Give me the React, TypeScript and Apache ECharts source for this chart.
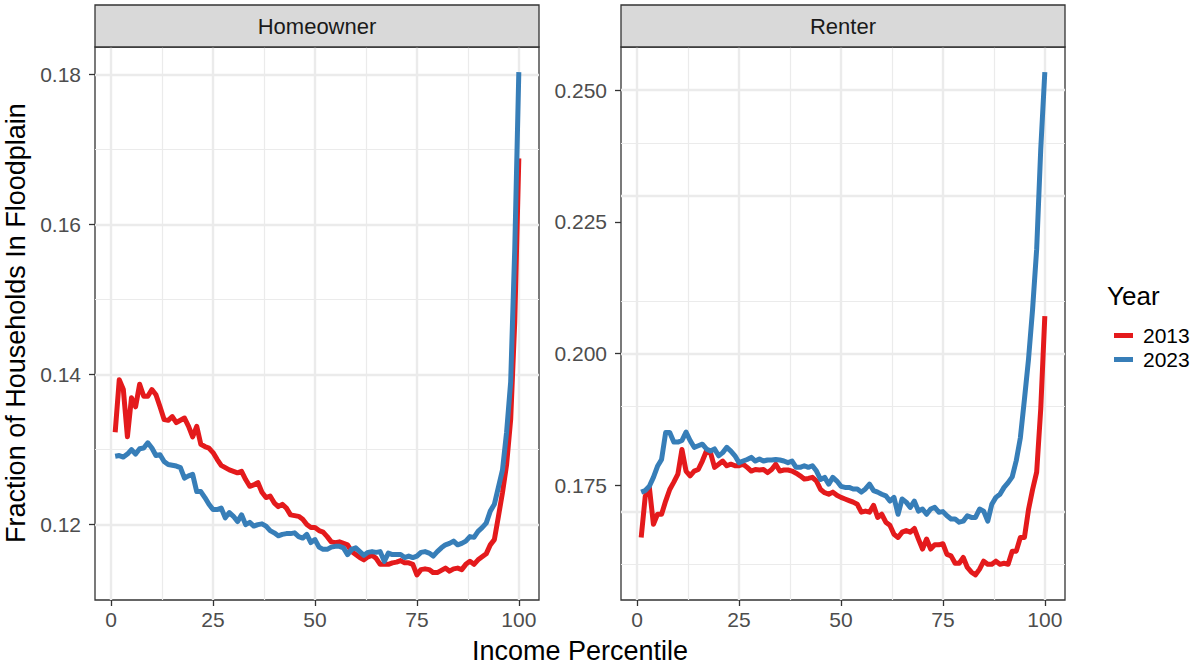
import React, { useEffect, useRef } from "react";
import * as echarts from "echarts";

// Income percentiles (x categories)
const percentiles: number[] = [
  1, 2, 3, 4, 5, 6, 7, 8, 9, 10, 11, 12, 13, 14, 15, 16, 17, 18, 19, 20,
  21, 22, 23, 24, 25, 26, 27, 28, 29, 30, 31, 32, 33, 34, 35, 36, 37, 38, 39, 40,
  41, 42, 43, 44, 45, 46, 47, 48, 49, 50, 51, 52, 53, 54, 55, 56, 57, 58, 59, 60,
  61, 62, 63, 64, 65, 66, 67, 68, 69, 70, 71, 72, 73, 74, 75, 76, 77, 78, 79, 80,
  81, 82, 83, 84, 85, 86, 87, 88, 89, 90, 91, 92, 93, 94, 95, 96, 97, 98, 99, 100,
];

const years = ["2013", "2023"];
const panels = ["Homeowner", "Renter"];

// Homeowner
const homeowner2013: number[] = [
  0.1323, 0.1393, 0.138, 0.1317, 0.1369, 0.1357, 0.1387, 0.1371, 0.1371, 0.138,
  0.1373, 0.1357, 0.134, 0.1339, 0.1344, 0.1336, 0.1339, 0.1342, 0.1331, 0.1317,
  0.1331, 0.1307, 0.1304, 0.1302, 0.1296, 0.1287, 0.1279, 0.1276, 0.1273, 0.1271,
  0.1269, 0.1271, 0.126, 0.1251, 0.1253, 0.1256, 0.1243, 0.1236, 0.1238, 0.1229,
  0.1224, 0.1227, 0.1222, 0.1213, 0.1212, 0.1211, 0.1207, 0.12, 0.1196, 0.1196,
  0.1192, 0.119, 0.1184, 0.1177, 0.1176, 0.1177, 0.1175, 0.1173, 0.1164, 0.116,
  0.1156, 0.1153, 0.1157, 0.1159, 0.1155, 0.1147, 0.1147, 0.1147, 0.1149, 0.115,
  0.1152, 0.1149, 0.1149, 0.1147, 0.1133, 0.114, 0.1141, 0.114, 0.1136, 0.1136,
  0.1139, 0.1142, 0.1138, 0.1141, 0.1142, 0.114, 0.1147, 0.1151, 0.1147, 0.1153,
  0.1157, 0.1161, 0.1173, 0.118, 0.1211, 0.1243, 0.128, 0.134, 0.147, 0.1688,
];
const homeowner2023: number[] = [
  0.1291, 0.1292, 0.129, 0.1294, 0.13, 0.1294, 0.1301, 0.1302, 0.1309, 0.1302,
  0.1292, 0.1293, 0.1284, 0.128, 0.1279, 0.1278, 0.1276, 0.1262, 0.1265, 0.1267,
  0.1244, 0.1244, 0.1236, 0.1227, 0.122, 0.122, 0.1222, 0.1209, 0.1216, 0.1211,
  0.1204, 0.1213, 0.12, 0.1203, 0.1198, 0.12, 0.1201, 0.1198, 0.1192, 0.1189,
  0.1185, 0.1187, 0.1188, 0.1188, 0.1189, 0.1184, 0.1182, 0.1187, 0.1176, 0.118,
  0.117, 0.1167, 0.1167, 0.117, 0.1171, 0.1171, 0.1169, 0.116, 0.1167, 0.1169,
  0.1164, 0.1159, 0.1163, 0.1164, 0.1163, 0.1164, 0.1151, 0.1162, 0.116, 0.116,
  0.116, 0.1156, 0.1158, 0.1156, 0.1158, 0.1163, 0.1164, 0.1162, 0.1158, 0.1164,
  0.1169, 0.1173, 0.1175, 0.1178, 0.1173, 0.1175, 0.1178, 0.1184, 0.1183, 0.1191,
  0.1196, 0.1202, 0.1218, 0.1227, 0.125, 0.1273, 0.1323, 0.139, 0.1567, 0.1803,
];

// Renter
const renter2013: number[] = [
  0.1651, 0.1729, 0.1746, 0.1676, 0.1695, 0.1695, 0.172, 0.1742, 0.1756, 0.1771,
  0.1818, 0.1777, 0.1768, 0.1777, 0.178, 0.1796, 0.1815, 0.1812, 0.1784, 0.179,
  0.1796, 0.1787, 0.179, 0.1787, 0.1787, 0.179, 0.1784, 0.1777, 0.178, 0.1779,
  0.178, 0.1774, 0.178, 0.179, 0.1777, 0.1779, 0.1779, 0.1777, 0.1773, 0.1768,
  0.1762, 0.1763, 0.1765, 0.1758, 0.1742, 0.1736, 0.1733, 0.1737, 0.1731, 0.1727,
  0.1724, 0.1721, 0.1718, 0.1714, 0.1699, 0.1701, 0.1699, 0.1712, 0.1689, 0.1695,
  0.168, 0.1674, 0.1657, 0.1651, 0.1661, 0.1664, 0.1661, 0.1668, 0.1648, 0.1629,
  0.1648, 0.1629, 0.1637, 0.1637, 0.1639, 0.1619, 0.1616, 0.1602, 0.1602, 0.1613,
  0.1594, 0.1585, 0.158, 0.1591, 0.1606, 0.16, 0.16, 0.1606, 0.16, 0.1602,
  0.16, 0.1625, 0.1625, 0.1651, 0.1651, 0.1704, 0.1742, 0.1775, 0.1895, 0.2071,
];
const renter2023: number[] = [
  0.1737, 0.174, 0.1748, 0.1765, 0.1786, 0.1799, 0.185, 0.185, 0.1832, 0.1832,
  0.1835, 0.1851, 0.1835, 0.1822, 0.1825, 0.1828, 0.1819, 0.1815, 0.1819, 0.1806,
  0.1812, 0.1822, 0.1815, 0.1806, 0.1793, 0.1796, 0.1799, 0.1803, 0.1796, 0.18,
  0.1796, 0.1798, 0.1798, 0.1799, 0.1798, 0.1796, 0.1793, 0.1796, 0.1784, 0.1784,
  0.1787, 0.1784, 0.1787, 0.1777, 0.1761, 0.1765, 0.1752, 0.1765, 0.1758, 0.1748,
  0.1746, 0.1746, 0.1743, 0.1743, 0.1737, 0.1743, 0.1752, 0.174, 0.1737, 0.1733,
  0.173, 0.172, 0.1727, 0.1695, 0.1724, 0.1718, 0.1708, 0.172, 0.1701, 0.1705,
  0.1695, 0.1705, 0.1708, 0.1699, 0.17, 0.1692, 0.1686, 0.1686, 0.168, 0.1682,
  0.1692, 0.1689, 0.1689, 0.1705, 0.1701, 0.1682, 0.1714, 0.1727, 0.1733, 0.1746,
  0.1755, 0.1766, 0.1797, 0.184, 0.1913, 0.1989, 0.2084, 0.2198, 0.2388, 0.2534,
];

// Tick labels / breaks
const xTicks = [0, 25, 50, 75, 100];
const xMinor = [12.5, 37.5, 62.5, 87.5];
const homeTicks = [0.12, 0.14, 0.16, 0.18];
const homeMinor = [0.13, 0.15, 0.17];
const renterTicks = [0.175, 0.2, 0.225, 0.25];
const renterMinor = [0.1625, 0.1875, 0.2125, 0.2375];

const colors = ["#E41A1C", "#377EB8"];
const FONT = "'Liberation Sans', Arial, Helvetica, sans-serif";

const expand = (vals: number[]) => {
  const lo = Math.min(...vals);
  const hi = Math.max(...vals);
  const pad = (hi - lo) * 0.05;
  return [lo - pad, hi + pad];
};

const GRIDS = [
  { left: 95, top: 47, width: 444, height: 553 },
  { left: 621, top: 47, width: 444, height: 553 },
];

export default function App() {
  const ref = useRef<HTMLDivElement>(null);

  useEffect(() => {
    if (!ref.current) return;
    const chart = echarts.init(ref.current, undefined, { renderer: "svg" });

    const xExt = expand(percentiles);
    const homeExt = expand([...homeowner2013, ...homeowner2023]);
    const renterExt = expand([...renter2013, ...renter2023]);
    const yExts = [homeExt, renterExt];
    const yTicks = [homeTicks, renterTicks];
    const yMinor = [homeMinor, renterMinor];
    const yDigits = [2, 3];
    const panelData = [
      [homeowner2013, homeowner2023],
      [renter2013, renter2023],
    ];

    const major = { color: "#EBEBEB", width: 2.4, type: "solid" };
    const minor = { color: "#EBEBEB", width: 1.2, type: "solid" };

    const gridLines = (p: number) => [
      ...xMinor.map((v) => ({ xAxis: v, lineStyle: minor })),
      ...yMinor[p].map((v) => ({ yAxis: v, lineStyle: minor })),
      ...xTicks.map((v) => ({ xAxis: v, lineStyle: major })),
      ...yTicks[p].map((v) => ({ yAxis: v, lineStyle: major })),
    ];

    const labelStyle = { color: "#4D4D4D", fontSize: 21, fontFamily: FONT };
    const tickStyle = { color: "#333333", width: 1.3 };

    const series: any[] = [];
    panels.forEach((_, p) => {
      years.forEach((yr, s) => {
        series.push({
          type: "line",
          name: yr,
          xAxisIndex: p,
          yAxisIndex: p,
          data: percentiles.map((x, i) => [x, panelData[p][s][i]]),
          showSymbol: false,
          symbol: "none",
          color: colors[s],
          lineStyle: { color: colors[s], width: 5, cap: "butt", join: "round" },
          z: 3 + s,
          silent: true,
          markLine:
            s === 0
              ? {
                  silent: true,
                  symbol: "none",
                  label: { show: false },
                  z: 1,
                  animation: false,
                  data: gridLines(p),
                }
              : undefined,
        });
      });
    });

    const option: any = {
      animation: false,
      backgroundColor: "#ffffff",
      grid: GRIDS.map((g) => ({
        ...g,
        show: true,
        borderColor: "#333333",
        borderWidth: 1.3,
        backgroundColor: "#ffffff",
        containLabel: false,
      })),
      xAxis: panels.map((_, p) => ({
        type: "value",
        gridIndex: p,
        min: xExt[0],
        max: xExt[1],
        axisLine: { show: false, onZero: false },
        splitLine: { show: false },
        axisTick: { show: true, length: 6, lineStyle: tickStyle, customValues: xTicks },
        axisLabel: {
          ...labelStyle,
          margin: 9,
          customValues: xTicks,
          formatter: (v: number) => (xTicks.includes(v) ? String(v) : ""),
        },
      })),
      yAxis: panels.map((_, p) => ({
        type: "value",
        gridIndex: p,
        min: yExts[p][0],
        max: yExts[p][1],
        axisLine: { show: false, onZero: false },
        splitLine: { show: false },
        axisTick: { show: true, length: 6, lineStyle: tickStyle, customValues: yTicks[p] },
        axisLabel: {
          ...labelStyle,
          margin: 14,
          customValues: yTicks[p],
          formatter: (v: number) =>
            yTicks[p].some((t) => Math.abs(t - v) < 1e-9) ? v.toFixed(yDigits[p]) : "",
        },
      })),
      legend: {
        data: years,
        orient: "vertical",
        left: 1109,
        top: 320,
        itemWidth: 19,
        itemHeight: 5,
        itemGap: 3,
        icon: "rect",
        selectedMode: false,
        textStyle: {
          fontSize: 21,
          fontFamily: FONT,
          color: "#000000",
          lineHeight: 21,
          padding: [0, 0, 0, 5],
        },
      },
      graphic: [
        ...GRIDS.map((g) => ({
          type: "rect",
          shape: { x: g.left, y: 5, width: g.width, height: 42 },
          style: { fill: "#D9D9D9", stroke: "#333333", lineWidth: 1.3 },
          z: 10,
        })),
        ...GRIDS.map((g, p) => ({
          type: "text",
          x: g.left + g.width / 2,
          y: 26,
          style: {
            text: panels[p],
            fontSize: 22,
            fontFamily: FONT,
            fill: "#1A1A1A",
            align: "center",
            verticalAlign: "middle",
          },
          z: 11,
        })),
        {
          type: "text",
          x: 16,
          y: 323,
          rotation: Math.PI / 2,
          style: {
            text: "Fraction of Households In Floodplain",
            fontSize: 27,
            fontFamily: FONT,
            fill: "#000000",
            align: "center",
            verticalAlign: "middle",
          },
        },
        {
          type: "text",
          x: 580,
          y: 651,
          style: {
            text: "Income Percentile",
            fontSize: 27,
            fontFamily: FONT,
            fill: "#000000",
            align: "center",
            verticalAlign: "middle",
          },
        },
        {
          type: "text",
          x: 1107,
          y: 296,
          style: {
            text: "Year",
            fontSize: 26,
            fontFamily: FONT,
            fill: "#000000",
            align: "left",
            verticalAlign: "middle",
          },
        },
      ],
      series,
    };

    chart.setOption(option);
    return () => chart.dispose();
  }, []);

  return (
    <div
      ref={ref}
      style={{ position: "fixed", left: 0, top: 0, width: 1191, height: 666 }}
    />
  );
}
